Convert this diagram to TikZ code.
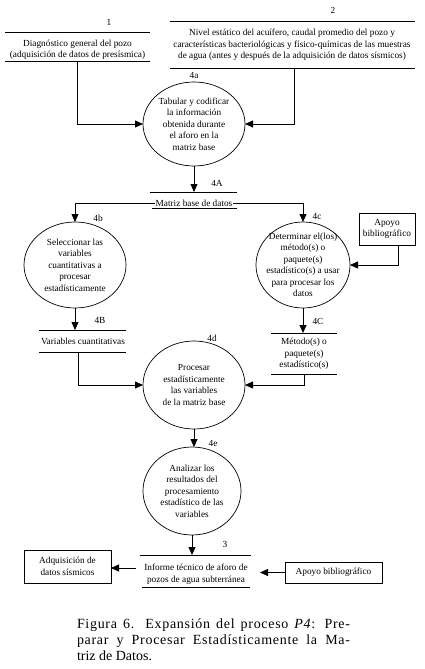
\documentclass[tikz,border=0pt]{standalone}
\usepackage{fontspec}
\setmainfont{Liberation Serif}
\newfontfamily\capfont{Liberation Serif}[LetterSpace=5]
\usetikzlibrary{arrows.meta,shapes.geometric}
\begin{document}
\begin{tikzpicture}[x=1pt,y=-1pt,
  every node/.style={font=\fontsize{9.3}{11.5}\selectfont, inner sep=0pt, outer sep=0pt},
  proc/.style={draw, ellipse, line width=0.7pt, inner sep=0pt},
  ptext/.style={align=center},
  stext/.style={align=center},
  ent/.style={draw, line width=0.8pt, align=center, inner sep=0pt},
  sline/.style={line width=0.8pt},
  conn/.style={line width=0.8pt},
  arr/.style={line width=0.8pt, -{Triangle[length=8pt,width=7pt]}},
  lbl/.style={}]
\useasboundingbox (0,0) rectangle (424,669);

% ---- store 1
\node[stext] (s1) at (77.5,50) {Diagnóstico general del pozo\\(adquisición de datos de presísmica)};
\node[lbl] (l1) at (109,22) {1};
\draw[sline] (5,32) -- (150,32) (5,61) -- (150,61);
\coordinate (s1b) at (77,61);

% ---- store 2
\node[stext] (s2) at (292,45) {Nivel estático del acuífero, caudal promedio del pozo y\\características bacteriológicas y físico-químicas de las muestras\\de agua (antes y después de la adquisición de datos sísmicos)};
\node[lbl] (l2) at (333,10) {2};
\draw[sline] (170,21) -- (415,21) (170,68) -- (415,68);
\coordinate (s2b) at (294,68);

% ---- process 4a
\node[proc, minimum width=102pt, minimum height=84pt] (p4a) at (194,124) {};
\node[ptext] (t4a) at (p4a.center) {Tabular y codificar\\la información\\obtenida durante\\el aforo en la\\matriz base};
\node[lbl] (l4a) at (194,75) {4a};
\draw[arr] (s1b) |- (p4a.west);
\draw[arr] (s2b) |- (p4a.east);

% ---- store 4A
\node[stext] (m4A) at (194,203) {Matriz base de datos};
\node[lbl] (l4A) at (217,183) {4A};
\draw[sline] (150,192) -- (237,192) (152,208) -- (237,208);
\coordinate (m4At) at (194,192);
\draw[arr] (p4a.south) -- (m4At);

% ---- process 4b
\node[proc, minimum width=102pt, minimum height=86pt] (p4b) at (75,265) {};
\node[ptext] (t4b) at (p4b.center) {Seleccionar las\\variables\\cuantitativas a\\procesar\\estadísticamente};
\node[lbl] (l4b) at (98,218) {4b};
\draw[arr] ([xshift=-1]m4A.west) -| (p4b.north);

% ---- process 4c
\node[proc, minimum width=94pt, minimum height=86pt] (p4c) at (303,265) {};
\node[ptext] (t4c) at (p4c.center) {Determinar el(los)\\método(s) o\\paquete(s)\\estadístico(s) a usar\\para procesar los\\datos};
\node[lbl] (l4c) at (317,216) {4c};
\draw[arr] ([xshift=1]m4A.east) -| (p4c.north);

% ---- external: Apoyo bibliografico (top)
\node[ent, minimum width=56pt, minimum height=32pt] (ap1) at (387,229) {Apoyo\\bibliográfico};
\draw[arr] ([xshift=11]ap1.south) |- (p4c.east);

% ---- store 4B
\node[stext] (s4B) at (83,341) {Variables cuantitativas};
\node[lbl] (l4B) at (100,320) {4B};
\draw[sline] (39,330) -- (126,330) (39,352) -- (126,352);
\coordinate (s4Bt) at (75,330);
\coordinate (s4Bb) at (78,352);
\draw[arr] (p4b.south) -- (s4Bt);

% ---- store 4C
\node[stext] (s4C) at (304,354) {Método(s) o\\paquete(s)\\estadístico(s)};
\node[lbl] (l4C) at (318,321) {4C};
\draw[sline] (271,333) -- (337,333) (271,374) -- (337,374);
\coordinate (s4Ct) at (303,333);
\coordinate (s4Cb) at (304,374);
\draw[arr] (p4c.south) -- (s4Ct);

% ---- process 4d
\node[proc, minimum width=102pt, minimum height=88pt] (p4d) at (194,385) {};
\node[ptext] (t4d) at (p4d.center) {Procesar\\estadísticamente\\las variables\\de la matriz base};
\node[lbl] (l4d) at (212,338) {4d};
\draw[arr] (s4Bb) |- (p4d.west);
\draw[arr] (s4Cb) |- (p4d.east);

% ---- process 4e
\node[proc, minimum width=98pt, minimum height=88pt] (p4e) at (192,491) {};
\node[ptext] (t4e) at (p4e.center) {Analizar los\\resultados del\\procesamiento\\estadístico de las\\variables};
\node[lbl] (l4e) at (213,443) {4e};
\draw[arr] (p4d.south) -- (p4e.north -| p4d.south);

% ---- store 3
\node[stext] (s3) at (196,574) {Informe técnico de aforo de\\pozos de agua subterránea};
\node[lbl] (l3) at (225,544) {3};
\draw[sline] (140,555) -- (251,555) (142,587) -- (250,587);
\coordinate (s3t) at (192,555);
\coordinate (s3w) at (136,568);
\coordinate (s3e) at (260,568);
\draw[arr] (p4e.south) -- (s3t);

% ---- external boxes bottom
\node[ent, minimum width=87pt, minimum height=33pt] (adq) at (67.5,566.5) {Adquisición de\\datos sísmicos};
\node[ent, minimum width=97pt, minimum height=21pt] (ap2) at (333.5,572.5) {Apoyo bibliográfico};
\draw[arr] (s3w) -- (s3w -| adq.east);
\draw[arr] (ap2.west) -- (ap2.west -| s3e);

% ---- caption
\node[anchor=base west, align=left, font=\fontsize{14}{16}\selectfont] (cap) at (77,660)
 {\makebox[273pt][s]{\capfont Figura 6. Expansión del proceso \textit{P4}: Pre-}\\
  \makebox[273pt][s]{\capfont parar y Procesar Estadísticamente la Ma-}\\
  triz de Datos.};
\end{tikzpicture}
\end{document}
